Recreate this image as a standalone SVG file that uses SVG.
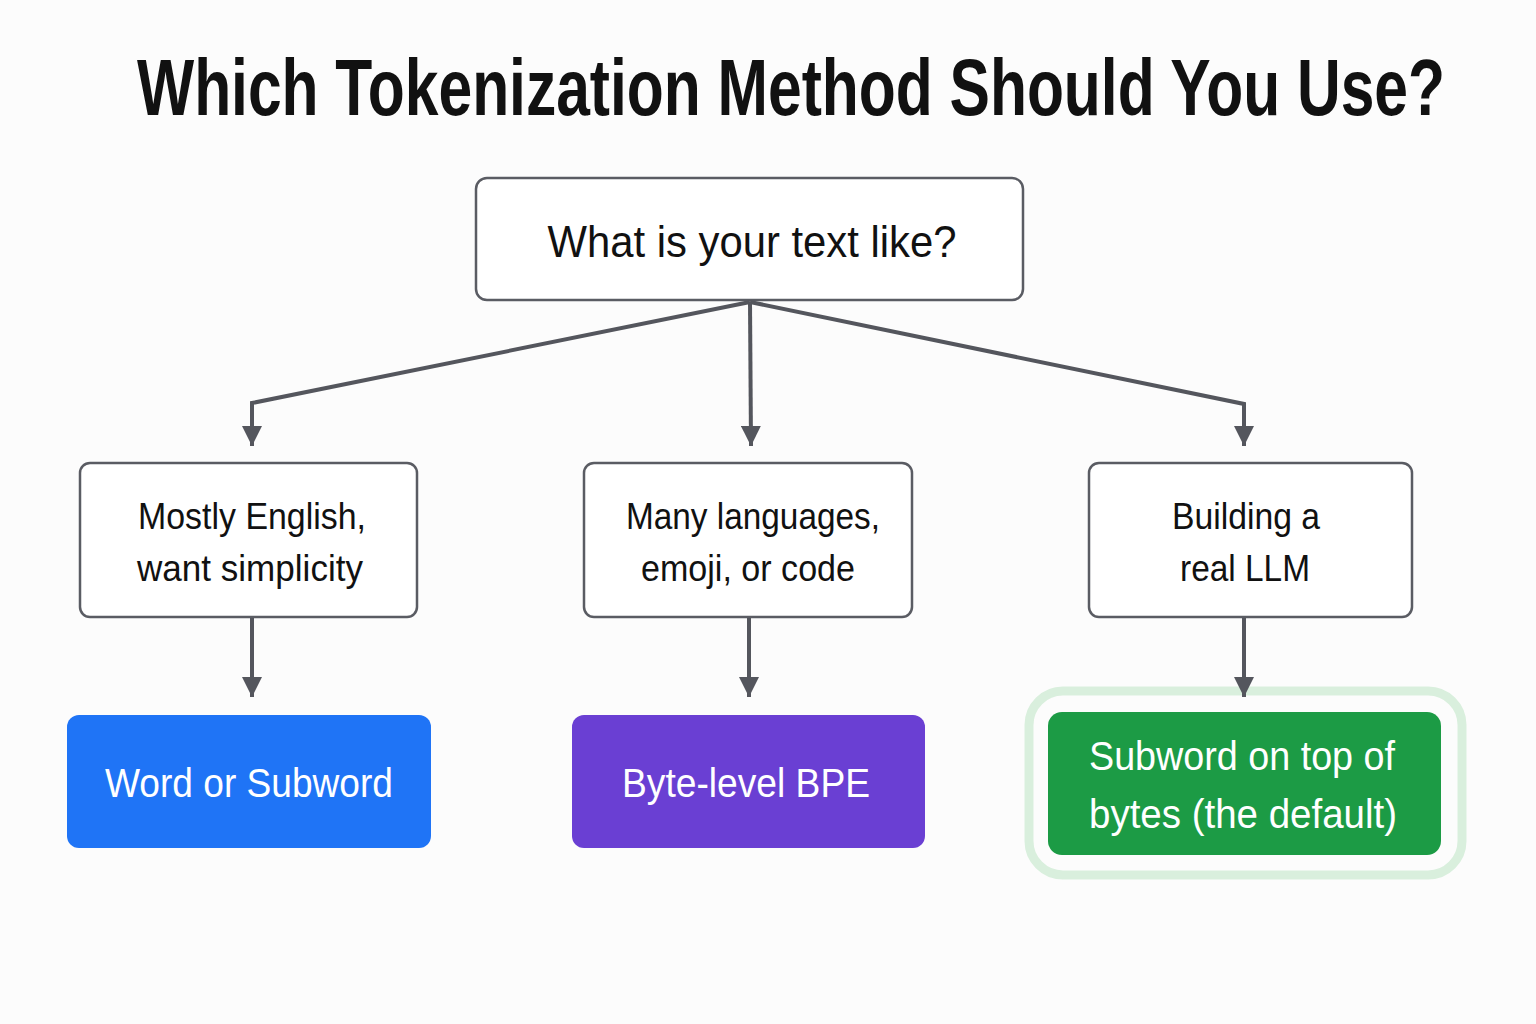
<svg xmlns="http://www.w3.org/2000/svg" width="1536" height="1024" viewBox="0 0 1536 1024">
<style>
.bg{fill:#fcfcfc}
.title{font-family:"Liberation Sans",Arial,sans-serif;font-weight:700;font-size:80px;fill:#111}
.q{fill:#fff;stroke:#5a5c63;stroke-width:2.5}
.qt{font-family:"Liberation Sans",Arial,sans-serif;font-size:44px;fill:#111;text-anchor:middle}
.mt{font-family:"Liberation Sans",Arial,sans-serif;font-size:37px;fill:#111;text-anchor:middle}
.rt{font-family:"Liberation Sans",Arial,sans-serif;font-size:41px;fill:#fff;text-anchor:middle}
.conn{fill:none;stroke:#54565d;stroke-width:4;stroke-linejoin:miter}
</style>
<defs>
<marker id="ah" viewBox="0 0 10 10" refX="10" refY="5" markerWidth="5" markerHeight="5" markerUnits="strokeWidth" orient="auto">
<path d="M0,0 L10,5 L0,10 z" fill="#54565d"/>
</marker>
</defs>
<rect class="bg" x="0" y="0" width="1536" height="1024"/>
<g transform="translate(137,115) scale(0.8,1)">
<text class="title" x="0" y="0" textLength="1635" lengthAdjust="spacingAndGlyphs">Which Tokenization Method Should You Use?</text>
</g>

<g id="root">
<rect class="q" x="476" y="178" width="547" height="122" rx="11"/>
<text class="qt" x="752" y="257" textLength="409" lengthAdjust="spacingAndGlyphs">What is your text like?</text>
</g>

<g id="english">
<rect class="q" x="80" y="463" width="337" height="154" rx="10"/>
<text class="mt" x="252" y="529" textLength="228" lengthAdjust="spacingAndGlyphs">Mostly English,</text>
<text class="mt" x="250" y="581" textLength="226" lengthAdjust="spacingAndGlyphs">want simplicity</text>
</g>

<g id="multilang">
<rect class="q" x="584" y="463" width="328" height="154" rx="10"/>
<text class="mt" x="753" y="529" textLength="254" lengthAdjust="spacingAndGlyphs">Many languages,</text>
<text class="mt" x="748" y="581" textLength="214" lengthAdjust="spacingAndGlyphs">emoji, or code</text>
</g>

<g id="llm">
<rect class="q" x="1089" y="463" width="323" height="154" rx="10"/>
<text class="mt" x="1246" y="529" textLength="148" lengthAdjust="spacingAndGlyphs">Building a</text>
<text class="mt" x="1245" y="581" textLength="130" lengthAdjust="spacingAndGlyphs">real LLM</text>
</g>

<g id="word">
<rect x="67" y="715" width="364" height="133" rx="12" fill="#1f74f6"/>
<text class="rt" x="249" y="797" textLength="288" lengthAdjust="spacingAndGlyphs">Word or Subword</text>
</g>

<g id="bytebpe">
<rect x="572" y="715" width="353" height="133" rx="12" fill="#6a3fd3"/>
<text class="rt" x="746" y="797" textLength="248" lengthAdjust="spacingAndGlyphs">Byte-level BPE</text>
</g>

<g id="default">
<rect x="1029" y="691" width="433" height="184" rx="34" fill="none" stroke="#d9efdd" stroke-width="9"/>
<rect x="1048" y="712" width="393" height="143" rx="14" fill="#1c9b45"/>
<text class="rt" x="1242" y="770" textLength="306" lengthAdjust="spacingAndGlyphs">Subword on top of</text>
<text class="rt" x="1243" y="828" textLength="308" lengthAdjust="spacingAndGlyphs">bytes (the default)</text>
</g>

<g id="connectors">
<path class="conn" d="M750,302 L252,403 L252,446" marker-end="url(#ah)"/>
<path class="conn" d="M750,302 L751,446" marker-end="url(#ah)"/>
<path class="conn" d="M750,302 L1244,404 L1244,446" marker-end="url(#ah)"/>
<path class="conn" d="M252,618 L252,697" marker-end="url(#ah)"/>
<path class="conn" d="M749,618 L749,697" marker-end="url(#ah)"/>
<path class="conn" d="M1244,618 L1244,697" marker-end="url(#ah)"/>
</g>
</svg>
